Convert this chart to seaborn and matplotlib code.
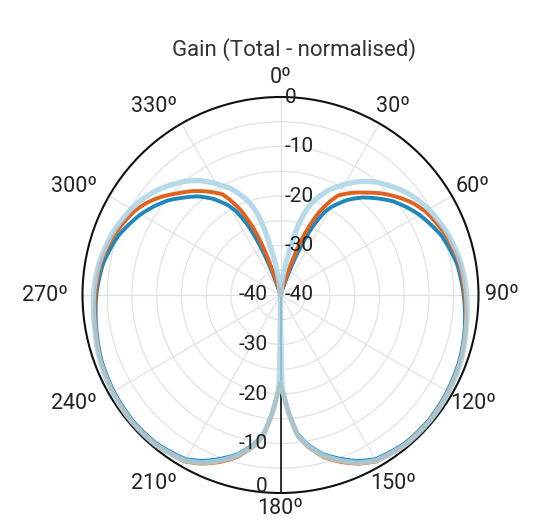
import numpy as np
import pandas as pd
import matplotlib
matplotlib.use("Agg")
import matplotlib.pyplot as plt
from matplotlib.transforms import offset_copy
import seaborn as sns

# ---------------- data (dB, normalised) ----------------
ANG_RIGHT = [0, 2, 4, 6, 8, 10, 12, 14, 16, 18, 20, 22, 25, 28, 30, 35, 40, 45, 50,
             55, 60, 70, 80, 90, 100, 110, 120, 130, 140, 150, 155, 160, 165, 170,
             173, 176, 178, 179, 180]
ANG_LEFT = [181, 182, 184, 187, 190, 195, 200, 205, 210, 220, 230, 240, 250, 260,
            270, 280, 290, 300, 305, 310, 315, 320, 325, 330, 332, 335, 338, 340,
            342, 344, 346, 348, 350, 352, 354, 356, 358, 360]

dark_right = [-40, -40, -40, -40, -40, -40, -40, -40, -40, -40, -36, -31, -25, -21,
              -19.5, -16.6, -14.3, -12.4, -10.5, -9, -7.6, -5.3, -3.8, -3.0, -2.2,
              -1.5, -1.1, -0.8, -0.9, -1.7, -3.0, -4.8, -6.7, -9.5, -11.8, -16.3,
              -19.8, -21.2, -22.4]
dark_left = [-21.2, -19.8, -16.3, -11.8, -9.5, -6.7, -4.8, -3.0, -1.7, -0.9, -0.8,
             -1.1, -1.5, -2.2, -2.8, -3.6, -5.1, -7.4, -8.8, -10.3, -12.2, -14.0,
             -16.3, -19.2, -20.8, -24.5, -30.5, -35.5, -40, -40, -40, -40, -40,
             -40, -40, -40, -40, -40]

orange_right = [-40, -40, -40, -40, -40, -40, -40, -40, -40, -35, -30, -26, -21.5,
                -18.5, -16.8, -14.8, -13, -11, -9.2, -7.5, -6.2, -4.5, -3.3, -2.8,
                -2.0, -1.3, -0.9, -0.6, -0.7, -1.2, -2.4, -4.1, -6.1, -9.0, -11.3,
                -16, -19.5, -21, -22.2]
orange_left = [-21, -19.5, -16, -11.3, -9.0, -6.1, -4.1, -2.4, -1.2, -0.7, -0.6,
               -0.9, -1.3, -2.0, -2.6, -3.1, -4.3, -6.0, -7.3, -9.0, -10.9, -12.6,
               -14.5, -16.5, -18.2, -21.2, -25.5, -29.5, -35, -40, -40, -40, -40,
               -40, -40, -40, -40, -40]

light_right = [-37, -40, -40, -40, -36, -33, -30, -26, -23, -21, -19.5, -18.3, -16.5,
               -15.2, -14.2, -12, -10.2, -8.8, -7.4, -6.3, -5.4, -4, -3, -2.4, -1.9,
               -1.2, -0.8, -0.5, -0.6, -1.4, -2.6, -4.4, -6.4, -9.2, -11.5, -16,
               -19.5, -21, -40]
light_left = [-21, -19.5, -16, -11.5, -9.2, -6.4, -4.4, -2.6, -1.4, -0.6, -0.5, -0.8,
              -1.2, -1.9, -2.2, -2.8, -3.8, -5.2, -6.1, -7.2, -8.6, -10.0, -11.8,
              -14.0, -15.0, -16.3, -18.1, -19.3, -20.8, -22.8, -25.8, -29.8, -32.8,
              -35.8, -40, -40, -40, -37]

r_ticks = [-40, -30, -20, -10, 0]
r_tick_labels = ["-40", "-30", "-20", "-10", "0"]
theta_ticks = list(range(0, 360, 30))
theta_labels = [f"{t}º" for t in theta_ticks]

series = [
    ("dark", dark_right + dark_left, "#1e88bd", 2.8, 1.0),
    ("orange", orange_right + orange_left, "#e0621e", 2.8, 1.0),
    ("light", light_right + light_left, "#a9d4e6", 3.8, 0.85),
]
angles = ANG_RIGHT + ANG_LEFT

# ---------------- figure ----------------
sns.set_style("white")
plt.rcParams["font.family"] = ["Roboto", "DejaVu Sans"]

fig = plt.figure(figsize=(5.33, 5.21), dpi=100)
R = 198
cx, cy = 280.5, 295
W, H = 533, 521
ax = fig.add_axes([(cx - R) / W, (H - cy - R) / H, 2 * R / W, 2 * R / H],
                  projection="polar")
ax.set_theta_zero_location("N")
ax.set_theta_direction(-1)
ax.set_ylim(-40, 0)

ax.set_yticks(np.arange(-35, 0, 5))
ax.set_yticklabels([])
ax.set_xticks(np.deg2rad(theta_ticks))
ax.set_xticklabels([])
ax.grid(True, color="#e2e2e2", linewidth=0.9)
ax.spines["polar"].set_color("#111111")
ax.spines["polar"].set_linewidth(1.5)
ax.axvline(np.pi, color="#111111", linewidth=1.2, zorder=1)

for name, vals, col, lw, a in series:
    df = pd.DataFrame({"theta": np.deg2rad(angles), "gain": vals})
    sns.lineplot(data=df, x="theta", y="gain", ax=ax, sort=False, estimator=None,
                 color=col, linewidth=lw, alpha=a, legend=False, zorder=3)

# draw the data segments as true polar arcs
for ln in ax.lines:
    ln.get_path()._interpolation_steps = 40

ax.set_xlabel("")
ax.set_ylabel("")
ax.set_ylim(-40, 0)

# angular labels just outside the rim
label_r = 4.0
for t, s in zip(theta_ticks, theta_labels):
    sn = np.sin(np.deg2rad(t))
    cs = np.cos(np.deg2rad(t))
    dx = -18 if sn < -0.1 else (4 if sn > 0.1 else 0)
    dy = 4 if cs < -0.95 else 0
    tr = offset_copy(ax.transData, fig=fig, x=dx, y=dy, units="dots")
    ax.text(np.deg2rad(t), label_r, s, transform=tr, ha="center", va="center",
            fontsize=15.5, color="#222222", clip_on=False)

# radial labels on the 0º and 180º axes
tr_up = offset_copy(ax.transData, fig=fig, x=4, y=0, units="dots")
tr_dn = offset_copy(ax.transData, fig=fig, x=-13, y=0, units="dots")
tr_dn0 = offset_copy(ax.transData, fig=fig, x=-13, y=6, units="dots")
for r, s in zip(r_ticks, r_tick_labels):
    ax.text(0, r, s, transform=tr_up, ha="left", va="center", fontsize=15,
            color="#222222", zorder=5)
    ax.text(np.pi, r, s, transform=(tr_dn0 if r == 0 else tr_dn), ha="right",
            va="center", fontsize=15, color="#222222", zorder=5)

fig.text(294.5 / W, 1 - 50 / H, "Gain (Total - normalised)", ha="center",
         va="center", fontsize=16, color="#333333")

fig.savefig("out.png", dpi=100)
